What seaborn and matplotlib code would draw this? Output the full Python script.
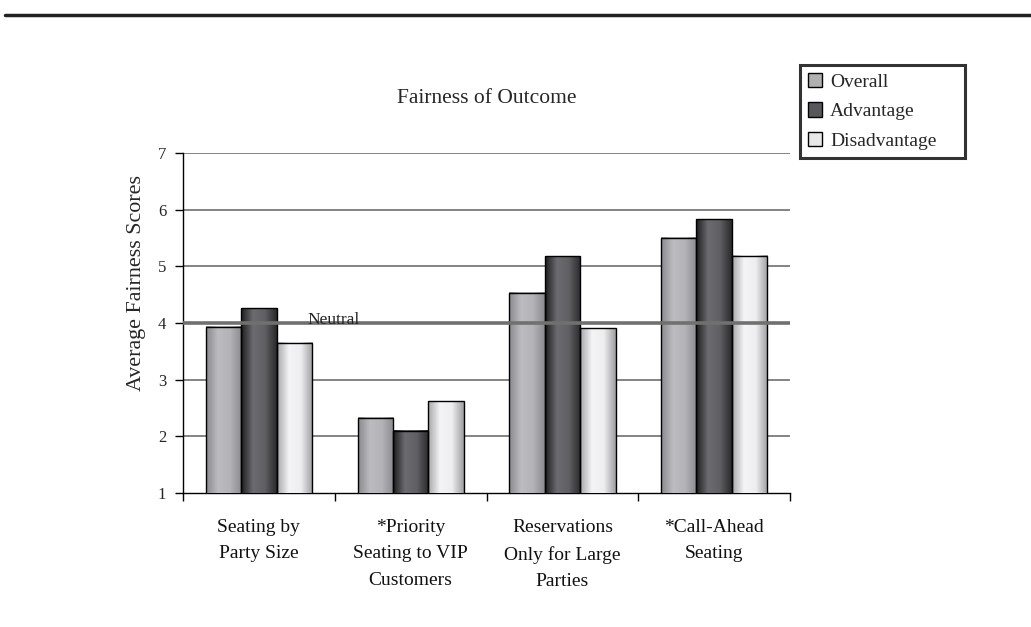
import numpy as np
import pandas as pd
import matplotlib
matplotlib.use('Agg')
import matplotlib.pyplot as plt
from matplotlib.colors import LinearSegmentedColormap
import seaborn as sns

# dữ liệu
categories = ['Seating by\nParty Size', '*Priority\nSeating to VIP\nCustomers',
              'Reservations\nOnly for Large\nParties', '*Call-Ahead\nSeating']
groups = ['Overall', 'Advantage', 'Disadvantage']
overall = [3.93, 2.33, 4.53, 5.50]
advantage = [4.26, 2.10, 5.18, 5.83]
disadvantage = [3.65, 2.62, 3.91, 5.19]
neutral = 4.0

df = pd.DataFrame({
    'category': categories * 3,
    'group': [g for g in groups for _ in categories],
    'score': overall + advantage + disadvantage,
})

sns.set_theme(style='white')
plt.rcParams['font.family'] = ['Liberation Serif', 'DejaVu Serif']

colors = {'Overall': '#b0b0b4', 'Advantage': '#58585c', 'Disadvantage': '#e8e8ea'}
# dải màu ngang cho thanh (tối ở mép, sáng ở giữa)
grad = {
    'Overall': ['#8a8a8e', '#bcbcc0', '#b4b4b8', '#8c8c90'],
    'Advantage': ['#1e1e20', '#6c6c70', '#606064', '#2a2a2c'],
    'Disadvantage': ['#a8a8aa', '#f4f4f6', '#eeeef0', '#a0a0a2'],
}

fig = plt.figure(figsize=(10.31, 6.27), dpi=100)
ax = fig.add_axes([0.1775, 0.2137, 0.5888, 0.5423])

sns.barplot(data=df, x='category', y='score', hue='group', hue_order=groups,
            order=categories, palette=colors, width=0.7, edgecolor='black',
            linewidth=1.0, saturation=1, ax=ax, legend=False, zorder=3)

ax.set_xlim(-0.5, 3.5)
ax.set_ylim(1, 7)
ymin = ax.get_ylim()[0]

# tô gradient cho từng thanh
for cont, g in zip(ax.containers, groups):
    cmap = LinearSegmentedColormap.from_list(g, grad[g])
    for bar in cont:
        x0, w = bar.get_x(), bar.get_width()
        top = bar.get_y() + bar.get_height()
        ax.imshow(np.linspace(0, 1, 64).reshape(1, -1), cmap=cmap,
                  extent=[x0, x0 + w, ymin, top], aspect='auto', zorder=3.5)
        bar.set_facecolor('none')
        bar.set_zorder(4)

ax.set_xlim(-0.5, 3.5)
ax.set_ylim(1, 7)
ax.set_yticks(range(1, 8))
for yv in range(2, 8):
    ax.axhline(yv, color='#7a7a7a', lw=1.3, zorder=1)
ax.axhline(neutral, color='#707070', lw=2.6, zorder=6)
ax.text(0.317, neutral - 0.01, 'Neutral', fontsize=12.5, va='baseline', ha='left',
        color='#222222', zorder=7)

for s in ['top', 'right']:
    ax.spines[s].set_visible(False)
for s in ['left', 'bottom']:
    ax.spines[s].set_color('black')
    ax.spines[s].set_linewidth(1.0)

ax.set_xticks(np.arange(-0.5, 4, 1), minor=True)
ax.tick_params(axis='x', which='major', length=0, pad=19, labelsize=14, colors='#111111')
ax.tick_params(axis='x', which='minor', length=6, width=1, color='black', direction='out', bottom=True)
ax.tick_params(axis='y', length=6, width=1, color='black', direction='out', left=True,
               labelsize=12, pad=6)
for lbl in ax.get_xticklabels():
    lbl.set_linespacing(1.7)
ax.set_xlabel('')
ax.set_ylabel('Average Fairness Scores', fontsize=15.8)
ax.yaxis.set_label_coords(-0.061, 0.618)
ax.set_title('Fairness of Outcome', fontsize=15.5, pad=36)

# chú giải
handles = [plt.Rectangle((0, 0), 1, 1, facecolor=colors[g], edgecolor='black', lw=1) for g in groups]
leg = fig.legend(handles, groups, loc='upper left',
                 bbox_to_anchor=(800 / 1031, 1 - 155 / 627, 165 / 1031, 90 / 627),
                 mode='expand', frameon=True, fancybox=False, fontsize=14,
                 handlelength=0.75, handleheight=0.75, handletextpad=0.4,
                 borderpad=0.4, labelspacing=0.6, borderaxespad=0)
leg.get_frame().set_edgecolor('black')
leg.get_frame().set_linewidth(2.2)

# đường kẻ ngang trên cùng
fig.add_artist(plt.Line2D([5 / 1031, 1.0], [1 - 15 / 627] * 2, color='#222222', lw=2.5))

fig.savefig('out.png', dpi=100, facecolor='white')
